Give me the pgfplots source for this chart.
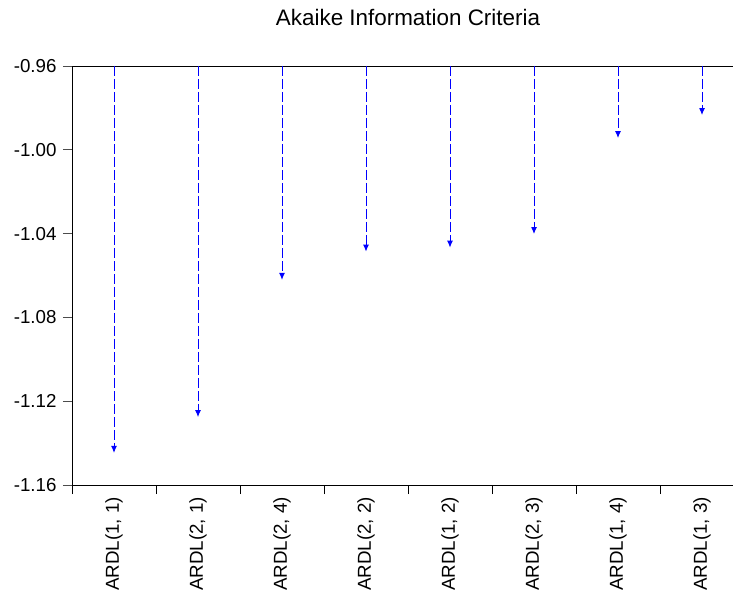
\documentclass[border=0pt]{standalone}
\usepackage{pgfplots}
\pgfplotsset{compat=1.18}
\usepackage{pgfplotstable}
\usepackage{fontspec}
\setmainfont{Liberation Sans}
\usetikzlibrary{arrows.meta}
\definecolor{lineblue}{RGB}{0,0,255}
\pgfplotstableread{
x y0 val
0 -0.96 -1.1447
1 -0.96 -1.1276
2 -0.96 -1.0621
3 -0.96 -1.0486
4 -0.96 -1.0467
5 -0.96 -1.0402
6 -0.96 -0.9944
7 -0.96 -0.9834
}\aicdata
\begin{document}
\begin{tikzpicture}
\path[use as bounding box] (0,0) rectangle (733bp,595bp);
\begin{axis}[
  at={(72bp,110bp)}, anchor=south west,
  scale only axis, width=661bp, height=419bp,
  xmin=-0.5, xmax=7.369,
  ymin=-1.16, ymax=-0.96,
  axis x line=box, axis y line=left,
  axis line style={-, black, line width=0.8bp},
  xtick pos=bottom, ytick pos=left,
  tick align=outside,
  ytick={-1.16,-1.12,...,-0.95},
  xtick={-0.5,0.5,...,6.5},
  xticklabels={},
  extra x ticks={0,1,2,3,4,5,6,7},
  extra x tick labels={{ARDL(1, 1)},{ARDL(2, 1)},{ARDL(2, 4)},{ARDL(2, 2)},{ARDL(1, 2)},{ARDL(2, 3)},{ARDL(1, 4)},{ARDL(1, 3)}},
  extra x tick style={major tick length=0pt, xticklabel style={yshift=-12bp, rotate=90, anchor=east, inner sep=0pt}},
  major tick length=9bp,
  x tick style={black, line width=0.8bp},
  y tick style={black!70, line width=0.8bp},
  /pgf/number format/assume math mode=true,
  /pgf/number format/.cd, fixed, fixed zerofill, precision=2, /pgfplots/.cd,
  tick label style={font=\fontsize{18.8}{22}\selectfont},
  yticklabel style={inner sep=6.3bp},
  title={Akaike Information Criteria},
  title style={at={(axis cs:3.5,-0.96)}, anchor=base, yshift=35bp, font=\fontsize{22.5}{27}\selectfont},
  clip=false,
]
\addplot[lineblue, line width=1bp, dash pattern=on 10bp off 3bp,
  quiver={u=0, v=\thisrow{val}-\thisrow{y0}},
  -{Latex[length=7bp,width=6bp]}]
  table[x=x, y=y0] {\aicdata};
\end{axis}
\end{tikzpicture}
\end{document}
